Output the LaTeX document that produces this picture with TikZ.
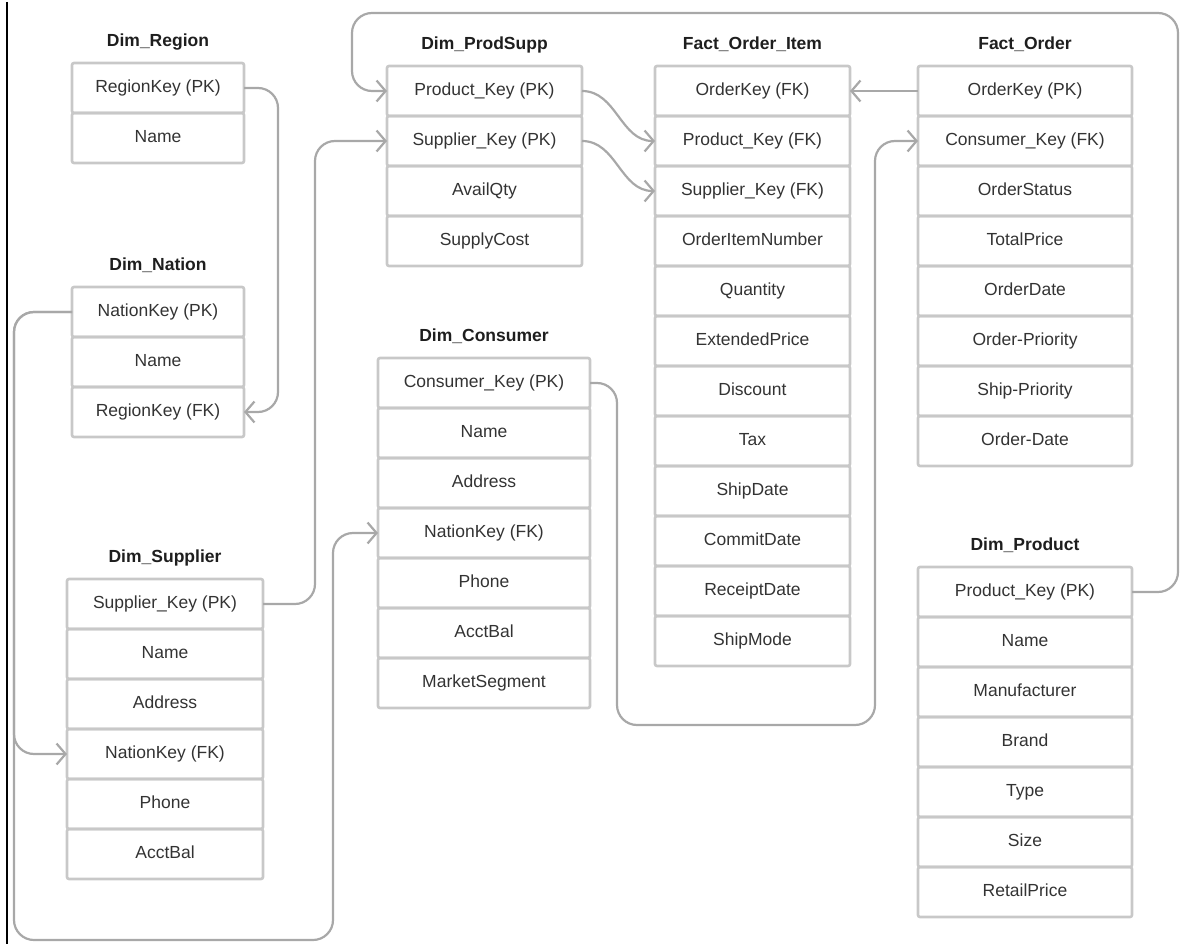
\documentclass[tikz,border=0pt]{standalone}
\usepackage{fontspec}
\setmainfont{Liberation Sans}
\usetikzlibrary{positioning,arrows.meta}
\definecolor{boxgray}{HTML}{C8C8C8}
\definecolor{linkgray}{HTML}{A8A8A8}
\definecolor{fieldtext}{HTML}{333333}
\definecolor{titletext}{HTML}{1E1E1E}
\begin{document}
\begin{tikzpicture}[x=1pt,y=-1pt,
				field/.style={draw=boxgray,line width=2.6pt,rounded corners=2pt,outer sep=0pt,
					minimum height=50pt,minimum width=#1,text=fieldtext,
					font=\fontsize{17.5}{20}\selectfont,text height=12.5pt,text depth=3.5pt},
				tablename/.style={font=\fontsize{17.5}{20}\selectfont\bfseries,text=titletext,
					inner sep=0pt,text height=12.5pt,text depth=3.5pt},
				fk/.style={draw=linkgray,line width=2.2pt,rounded corners=20pt,
					-{Straight Barb[length=9pt,width=21pt]}}]
\useasboundingbox (0,0) rectangle (1189,944);
\draw[line width=1.5pt] (7,2) -- (7,944);

\node[field=172pt] (reg1) at (158,88) {RegionKey (PK)};
\node[field=172pt,below=0pt of reg1] (reg2) {Name};
\node[tablename,above=13pt of reg1] (regT) {Dim\_Region};

\node[field=172pt] (nat1) at (158,312) {NationKey (PK)};
\node[field=172pt,below=0pt of nat1] (nat2) {Name};
\node[field=172pt,below=0pt of nat2] (nat3) {RegionKey (FK)};
\node[tablename,above=13pt of nat1] (natT) {Dim\_Nation};

\node[field=196pt] (sup1) at (165,604) {Supplier\_Key (PK)};
\node[field=196pt,below=0pt of sup1] (sup2) {Name};
\node[field=196pt,below=0pt of sup2] (sup3) {Address};
\node[field=196pt,below=0pt of sup3] (sup4) {NationKey (FK)};
\node[field=196pt,below=0pt of sup4] (sup5) {Phone};
\node[field=196pt,below=0pt of sup5] (sup6) {AcctBal};
\node[tablename,above=13pt of sup1] (supT) {Dim\_Supplier};

\node[field=195pt] (ps1) at (484.5,91) {Product\_Key (PK)};
\node[field=195pt,below=0pt of ps1] (ps2) {Supplier\_Key (PK)};
\node[field=195pt,below=0pt of ps2] (ps3) {AvailQty};
\node[field=195pt,below=0pt of ps3] (ps4) {SupplyCost};
\node[tablename,above=13pt of ps1] (psT) {Dim\_ProdSupp};

\node[field=212pt] (con1) at (484,383) {Consumer\_Key (PK)};
\node[field=212pt,below=0pt of con1] (con2) {Name};
\node[field=212pt,below=0pt of con2] (con3) {Address};
\node[field=212pt,below=0pt of con3] (con4) {NationKey (FK)};
\node[field=212pt,below=0pt of con4] (con5) {Phone};
\node[field=212pt,below=0pt of con5] (con6) {AcctBal};
\node[field=212pt,below=0pt of con6] (con7) {MarketSegment};
\node[tablename,above=13pt of con1] (conT) {Dim\_Consumer};

\node[field=195pt] (foi1) at (752.5,91) {OrderKey (FK)};
\node[field=195pt,below=0pt of foi1] (foi2) {Product\_Key (FK)};
\node[field=195pt,below=0pt of foi2] (foi3) {Supplier\_Key (FK)};
\node[field=195pt,below=0pt of foi3] (foi4) {OrderItemNumber};
\node[field=195pt,below=0pt of foi4] (foi5) {Quantity};
\node[field=195pt,below=0pt of foi5] (foi6) {ExtendedPrice};
\node[field=195pt,below=0pt of foi6] (foi7) {Discount};
\node[field=195pt,below=0pt of foi7] (foi8) {Tax};
\node[field=195pt,below=0pt of foi8] (foi9) {ShipDate};
\node[field=195pt,below=0pt of foi9] (foi10) {CommitDate};
\node[field=195pt,below=0pt of foi10] (foi11) {ReceiptDate};
\node[field=195pt,below=0pt of foi11] (foi12) {ShipMode};
\node[tablename,above=13pt of foi1] (foiT) {Fact\_Order\_Item};

\node[field=214pt] (ord1) at (1025,91) {OrderKey (PK)};
\node[field=214pt,below=0pt of ord1] (ord2) {Consumer\_Key (FK)};
\node[field=214pt,below=0pt of ord2] (ord3) {OrderStatus};
\node[field=214pt,below=0pt of ord3] (ord4) {TotalPrice};
\node[field=214pt,below=0pt of ord4] (ord5) {OrderDate};
\node[field=214pt,below=0pt of ord5] (ord6) {Order-Priority};
\node[field=214pt,below=0pt of ord6] (ord7) {Ship-Priority};
\node[field=214pt,below=0pt of ord7] (ord8) {Order-Date};
\node[tablename,above=13pt of ord1] (ordT) {Fact\_Order};

\node[field=214pt] (prod1) at (1025,592) {Product\_Key (PK)};
\node[field=214pt,below=0pt of prod1] (prod2) {Name};
\node[field=214pt,below=0pt of prod2] (prod3) {Manufacturer};
\node[field=214pt,below=0pt of prod3] (prod4) {Brand};
\node[field=214pt,below=0pt of prod4] (prod5) {Type};
\node[field=214pt,below=0pt of prod5] (prod6) {Size};
\node[field=214pt,below=0pt of prod6] (prod7) {RetailPrice};
\node[tablename,above=13pt of prod1] (prodT) {Dim\_Product};

\draw[fk] (reg1.east) -- ++(34,0) |- (nat3.east);
\draw[fk] (nat1.west) -- (14,312) |- (sup4.west);
\draw[fk] (nat1.west) -- (14,312) -- (14,940) -- (333,940) |- (con4.west);
\draw[fk] (sup1.east) -- (315,604) |- (ps2.west);
\draw[fk] (prod1.east) -- (1178,592) -- (1178,13) -- (352,13) |- (ps1.west);
\draw[fk] (ps1.east) to[out=0,in=180] (foi2.west);
\draw[fk] (ps2.east) to[out=0,in=180] (foi3.west);
\draw[fk] (ord1.west) -- (foi1.east);
\draw[fk] (con1.east) -- (617,383) -- (617,725) -- (875,725) |- (ord2.west);
\end{tikzpicture}
\end{document}
